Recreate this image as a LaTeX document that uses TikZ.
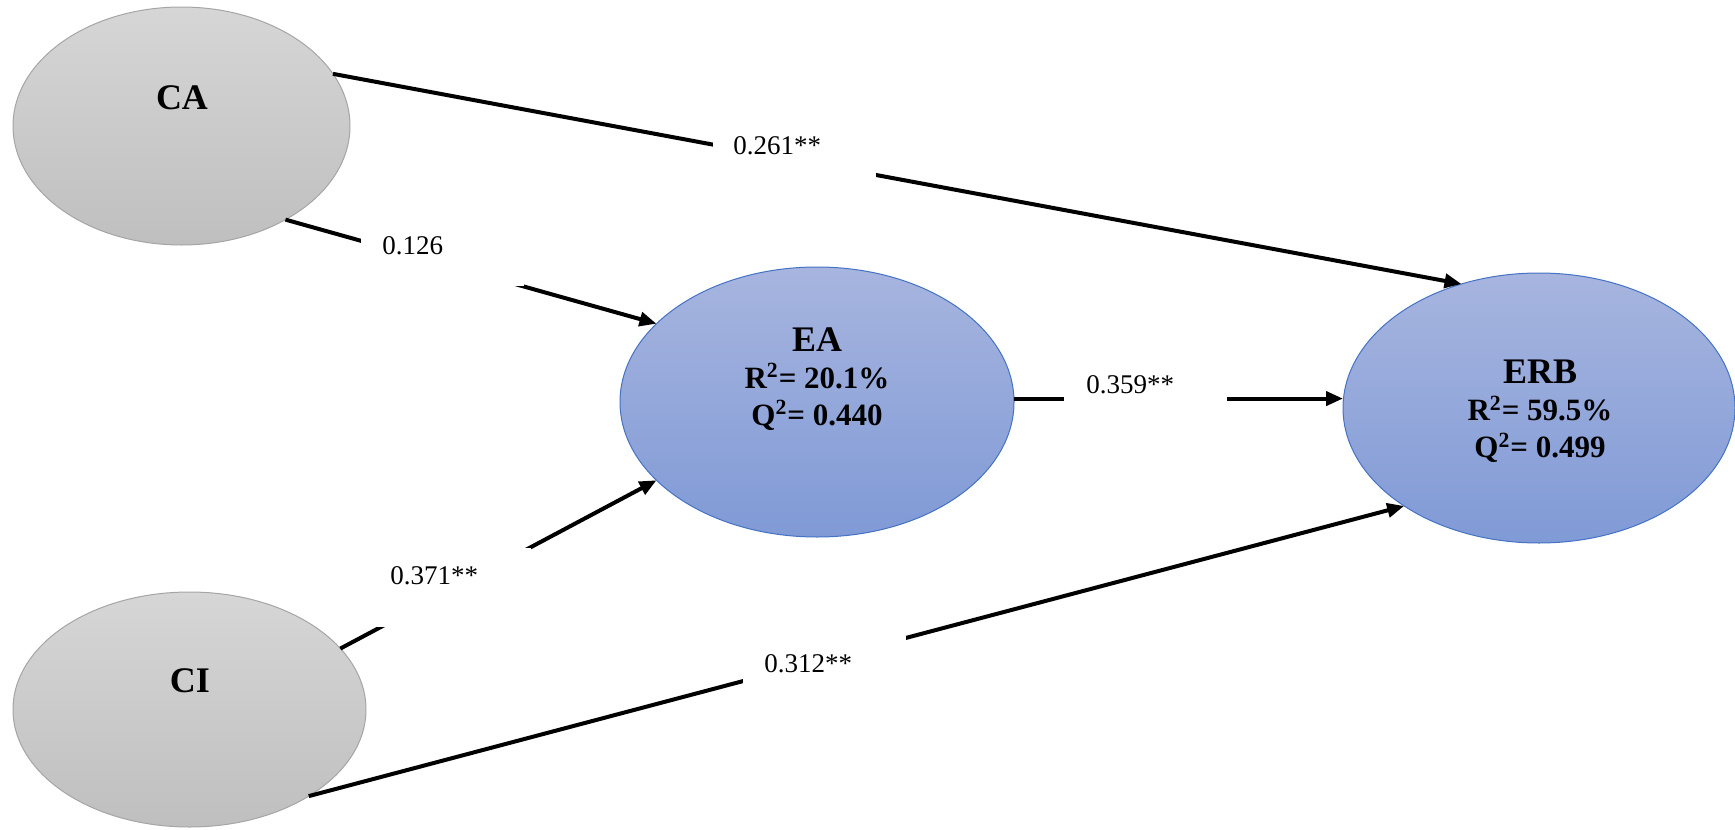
\documentclass[tikz,border=0pt]{standalone}
\usepackage{fontspec}
\setmainfont{Liberation Serif}
\usetikzlibrary{shapes.geometric,arrows.meta}

\definecolor{greyTop}{RGB}{214,214,214}
\definecolor{greyBot}{RGB}{191,191,191}
\definecolor{greyLine}{RGB}{165,165,165}
\definecolor{blueTop}{RGB}{167,181,223}
\definecolor{blueBot}{RGB}{128,154,214}
\definecolor{blueLine}{RGB}{68,114,196}

\begin{document}
\begin{tikzpicture}[x=0.5pt, y=-0.5pt,
  latent/.style={ellipse, inner sep=0pt, outer sep=0pt, line width=0.5pt,
    draw=greyLine, top color=greyTop, bottom color=greyBot},
  latentblue/.style={latent, draw=blueLine, top color=blueTop, bottom color=blueBot},
  lvtext/.style={inner sep=0pt, font=\bfseries\fontsize{18}{18.5}\selectfont},
  stats/.style={inner sep=0pt, align=center, font=\bfseries\fontsize{15.5}{18.5}\selectfont},
  effect/.style={line width=2pt, -{Triangle[length=8.5pt,width=7pt]}},
  coef/.style={fill=white, inner sep=0pt, anchor=base west, align=left,
    text width=81.5pt, text height=18pt, font=\fontsize{13.5}{16}\selectfont}
]
\useasboundingbox (0,0) rectangle (1735,830);

% latent variables
\node[latent, minimum width=168.5pt, minimum height=119pt] (CA) at (181.5,126) {};
\node[latent, minimum width=176.5pt, minimum height=117.5pt] (CI) at (189.5,709.5) {};
\node[latentblue, minimum width=197pt, minimum height=135pt] (EA) at (817,402) {};
\node[latentblue, minimum width=196pt, minimum height=135pt] (ERB) at (1539,408) {};

% variable names and fit statistics
\node[lvtext, anchor=base] (CAname) at (182,109) {CA};
\node[lvtext, anchor=base] (CIname) at (190,692) {CI};
\node[stats, anchor=north] (EAname) at (817,327)
  {{\fontsize{18}{18.5}\selectfont EA}\\R\textsuperscript{2}= 20.1\%\\Q\textsuperscript{2}= 0.440};
\node[stats, anchor=north] (ERBname) at (1540,360)
  {{\fontsize{18}{18.5}\selectfont ERB}\\R\textsuperscript{2}= 59.5\%\\Q\textsuperscript{2}= 0.499};

% structural paths
\draw[effect] (CA.19.6) -- (ERB.122.8);
\draw[effect] (CA.-42.8) -- (EA.154.6);
\draw[effect] (CI.22) -- (EA.206.9);
\draw[effect] (CI.-36.6) -- (ERB.216.9);
\draw[effect] (EA.1.2) -- (EA.1.2 -| ERB.west);

% path coefficients
\node[coef, text depth=15pt] (c261) at (713,154) {\hspace*{10pt}0.261**};
\node[coef, text depth=16pt] (c126) at (361,254) {\hspace*{10.5pt}0.126};
\node[coef, text depth=15pt] (c359) at (1064,393) {\hspace*{11pt}0.359**};
\node[coef, text depth=21.5pt] (c371) at (368,584) {\hspace*{11pt}0.371**};
\node[coef, text depth=15pt] (c312) at (743,672) {\hspace*{10.5pt}0.312**};
\end{tikzpicture}
\end{document}
